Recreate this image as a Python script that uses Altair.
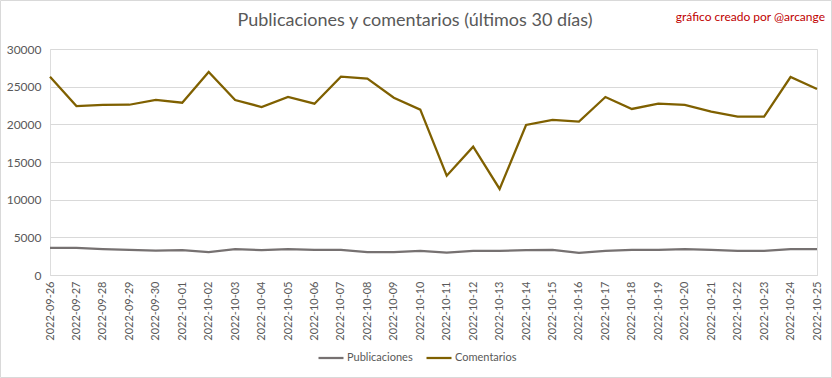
import altair as alt
import pandas as pd

dates = ["2022-09-26","2022-09-27","2022-09-28","2022-09-29","2022-09-30",
         "2022-10-01","2022-10-02","2022-10-03","2022-10-04","2022-10-05",
         "2022-10-06","2022-10-07","2022-10-08","2022-10-09","2022-10-10",
         "2022-10-11","2022-10-12","2022-10-13","2022-10-14","2022-10-15",
         "2022-10-16","2022-10-17","2022-10-18","2022-10-19","2022-10-20",
         "2022-10-21","2022-10-22","2022-10-23","2022-10-24","2022-10-25"]
publicaciones = [3600,3600,3450,3350,3230,3300,3050,3450,3300,3450,
                 3330,3330,3050,3050,3200,2960,3200,3200,3300,3350,
                 2950,3200,3330,3330,3450,3330,3200,3200,3450,3450]
comentarios = [26320,22430,22570,22600,23230,22870,26950,23230,22300,23630,
               22740,26320,26060,23540,21950,13180,17030,11420,19910,20580,
               20350,23630,22040,22740,22570,21680,21010,21010,26280,24690]
series = ["Publicaciones", "Comentarios"]
colors = ["#767171", "#7f6000"]
title_text = "Publicaciones y comentarios (últimos 30 días)"
credit_text = "gráfico creado por @arcange"

df = pd.concat([
    pd.DataFrame({"fecha": dates, "valor": publicaciones, "serie": series[0]}),
    pd.DataFrame({"fecha": dates, "valor": comentarios, "serie": series[1]}),
])

FONT = "Lato"
GRAY = "#595959"

lines = alt.Chart(df).mark_line(strokeWidth=2.25).encode(
    x=alt.X("fecha:N", sort=dates, title=None,
            scale=alt.Scale(paddingInner=0, paddingOuter=0, padding=0),
            axis=alt.Axis(labelAngle=-90, ticks=False, domainColor="#d9d9d9",
                          domainWidth=1, labelColor=GRAY, labelFont=FONT,
                          labelFontSize=11, labelPadding=6, grid=False)),
    y=alt.Y("valor:Q", title=None,
            scale=alt.Scale(domain=[0, 30000], nice=False),
            axis=alt.Axis(values=[0,5000,10000,15000,20000,25000,30000],
                          format="d", domain=False, ticks=False,
                          gridColor="#d9d9d9", gridWidth=1,
                          labelColor=GRAY, labelFont=FONT, labelFontSize=12,
                          labelPadding=9)),
    color=alt.Color("serie:N", sort=series,
                    scale=alt.Scale(domain=series, range=colors),
                    legend=alt.Legend(title=None, orient="none",
                                      legendX=267, legendY=295,
                                      direction="horizontal",
                                      symbolType="stroke", symbolSize=625,
                                      symbolStrokeWidth=2.25,
                                      labelFont=FONT, labelFontSize=11,
                                      labelColor=GRAY, labelOffset=2,
                                      columnPadding=9)),
)

one = pd.DataFrame({"t": [credit_text], "u": [title_text]})

credit = alt.Chart(one).mark_text(
    align="right", baseline="middle", font=FONT, fontSize=12, color="#c00000"
).encode(x=alt.value(775), y=alt.value(-32), text="t:N")

title = alt.Chart(one).mark_text(
    align="center", baseline="middle", font=FONT, fontSize=18, color=GRAY
).encode(x=alt.value(365), y=alt.value(-28), text="u:N")

border = alt.Chart(one).mark_rect(
    fill=None, filled=False, stroke="#d9d9d9", strokeWidth=1
).encode(x=alt.value(-49.5), x2=alt.value(781.5),
         y=alt.value(-48.5), y2=alt.value(328.5))

chart = alt.layer(border, lines, credit, title).properties(
    width=767, height=226,
    autosize=alt.AutoSizeParams(type="none"),
    padding={"left": 50, "top": 49, "right": 15, "bottom": 103},
).configure_view(stroke=None).configure(background="white")

chart.save("out.html", embed_options={"renderer": "svg", "actions": False})
